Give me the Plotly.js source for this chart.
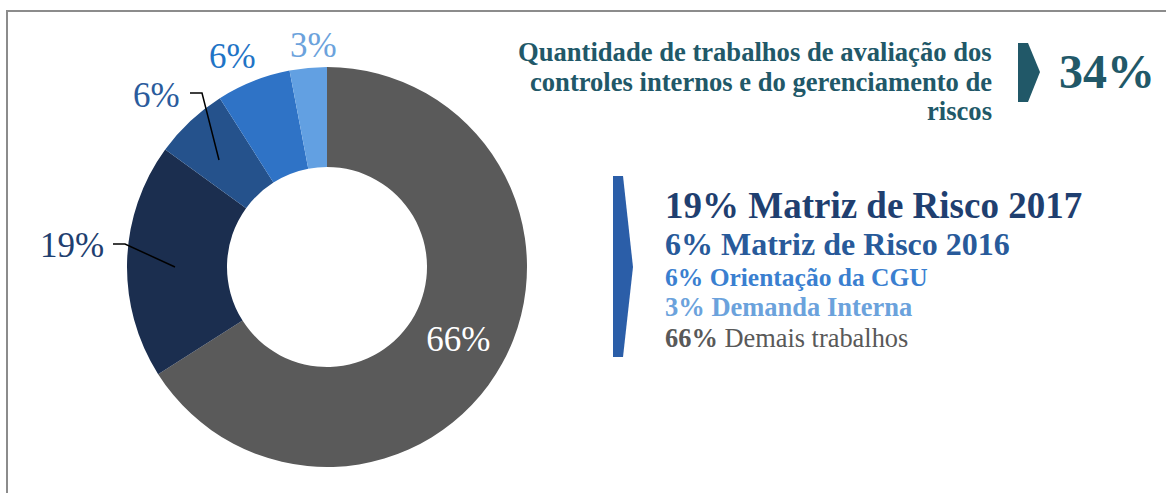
<!DOCTYPE html>
<html>
<head>
<meta charset="utf-8">
<script src="https://cdn.plot.ly/plotly-3.0.1.min.js"></script>
<style>html,body{margin:0;padding:0;background:#fff;}#chart{width:1166px;height:493px;}</style>
</head>
<body>
<div id="chart"></div>
<script>
// ---- data ----
const categories = ['Demais trabalhos', 'Matriz de Risco 2017', 'Matriz de Risco 2016', 'Orientação da CGU', 'Demanda Interna'];
const values = [66, 19, 6, 6, 3];
const sliceColors = ['#5a5a5a', '#1b2e4f', '#25528c', '#2f73c6', '#62a0e2'];
const labelColors = ['#ffffff', '#1f3f70', '#2a5b9c', '#1f74c6', '#6ba2dc'];
const headlineLines = ['Quantidade de trabalhos de avaliação dos', 'controles internos e do gerenciamento de', 'riscos'];
const headlineValue = values.slice(1).reduce((a, b) => a + b, 0); // 34
const legendOrder = [1, 2, 3, 4, 0];

// ---- layout helpers (pixel -> paper) ----
const W = 1166, H = 493;
const px = x => x / W;
const py = y => 1 - y / H;
const serif = 'Liberation Serif';

const cx = 327, cy = 267, R = 200;

const pie = {
  type: 'pie',
  values: values,
  labels: categories,
  sort: false,
  direction: 'clockwise',
  rotation: 0,
  hole: 0.5,
  domain: {x: [px(cx - R), px(cx + R)], y: [py(cy + R), py(cy - R)]},
  marker: {colors: sliceColors, line: {width: 0}},
  texttemplate: '%{value}%',
  textposition: ['inside', 'none', 'none', 'none', 'none'],
  insidetextorientation: 'horizontal',
  insidetextfont: {family: serif, size: 35, color: labelColors[0]},
  showlegend: false,
  hoverinfo: 'label+value'
};

const annotations = [];
// outside donut labels
const outsidePos = {1: [72, 245], 2: [157, 95], 3: [232, 57], 4: [314, 45]};
[1, 2, 3, 4].forEach(i => {
  annotations.push({
    xref: 'paper', yref: 'paper', x: px(outsidePos[i][0]), y: py(outsidePos[i][1]),
    xanchor: 'center', yanchor: 'middle', showarrow: false,
    text: values[i] + '%',
    font: {family: serif, size: 35, color: labelColors[i]}
  });
});

// headline text (right aligned)
const headBase = [52, 82, 111];
headlineLines.forEach((t, k) => {
  annotations.push({
    xref: 'paper', yref: 'paper', x: px(994), y: py(headBase[k]),
    xanchor: 'right', yanchor: 'middle', showarrow: false,
    text: '<b>' + t + '</b>',
    font: {family: serif, size: 26.6, color: '#215868'}
  });
});
annotations.push({
  xref: 'paper', yref: 'paper', x: px(1057), y: py(71),
  xanchor: 'left', yanchor: 'middle', showarrow: false,
  text: '<b>' + headlineValue + '%</b>',
  font: {family: serif, size: 48, color: '#215868'}
});

// legend block
const legSizes = [37, 32, 25.5, 26.5, 26.4];
const legY = [205, 244, 277, 307, 338];
const legColors = ['#1f3f70', '#285a9a', '#3a7fd0', '#6ba2dc', '#595959'];
legendOrder.forEach((i, k) => {
  const txt = (i === 0)
    ? '<b>' + values[i] + '%</b> ' + categories[i]
    : '<b>' + values[i] + '% ' + categories[i] + '</b>';
  annotations.push({
    xref: 'paper', yref: 'paper', x: px(663), y: py(legY[k]),
    xanchor: 'left', yanchor: 'middle', showarrow: false,
    text: txt,
    font: {family: serif, size: legSizes[k], color: legColors[k]}
  });
});

function path(pts) {
  return 'M' + pts.map(p => px(p[0]) + ',' + py(p[1])).join(' L') ;
}

const shapes = [
  // frame
  {type: 'line', xref: 'paper', yref: 'paper', x0: px(6), x1: px(1166), y0: py(11), y1: py(11), line: {color: '#8c8c8c', width: 2}},
  {type: 'line', xref: 'paper', yref: 'paper', x0: px(7), x1: px(7), y0: py(10), y1: py(493), line: {color: '#8c8c8c', width: 2}},
  // teal chevron
  {type: 'path', xref: 'paper', yref: 'paper', path: path([[1018, 43], [1028, 43], [1040, 72], [1028, 102], [1018, 102]]) + ' Z', fillcolor: '#215868', line: {width: 0}},
  // blue chevron
  {type: 'path', xref: 'paper', yref: 'paper', path: path([[613, 176], [623, 176], [633, 267], [623, 357], [613, 357]]) + ' Z', fillcolor: '#2b5ea8', line: {width: 0}},
  // leader lines
  {type: 'path', xref: 'paper', yref: 'paper', path: path([[190, 93], [202, 93], [219, 160]]), line: {color: '#000', width: 1.5}},
  {type: 'path', xref: 'paper', yref: 'paper', path: path([[113, 244], [125, 244], [175, 267]]), line: {color: '#000', width: 1.5}}
];

const layout = {
  width: W, height: H,
  margin: {l: 0, r: 0, t: 0, b: 0},
  paper_bgcolor: '#ffffff',
  plot_bgcolor: '#ffffff',
  font: {family: serif},
  annotations: annotations,
  shapes: shapes,
  showlegend: false
};

Plotly.newPlot('chart', [pie], layout, {displayModeBar: false, staticPlot: true});
</script>
</body>
</html>
